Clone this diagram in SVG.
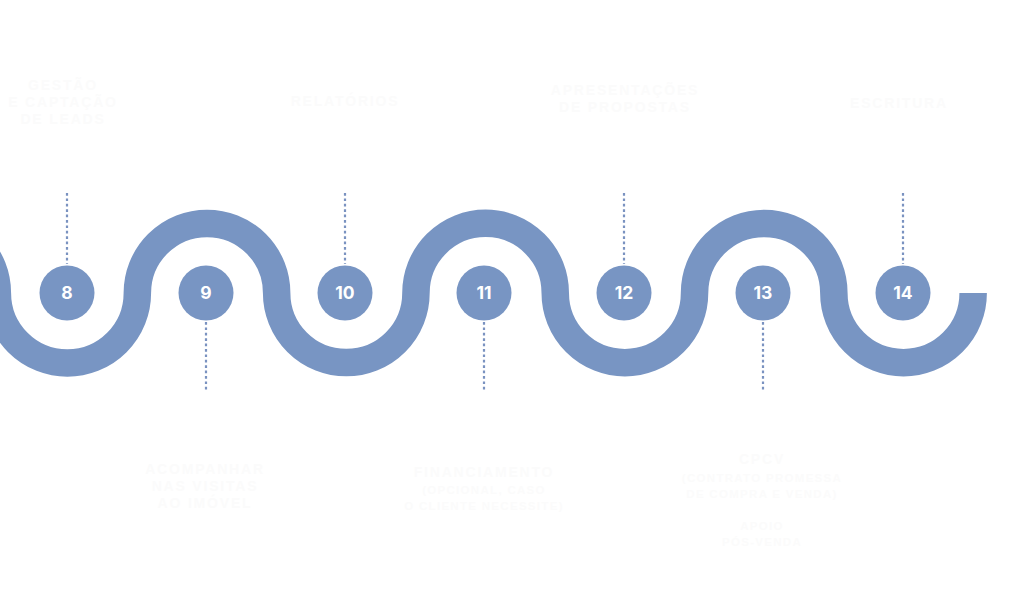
<svg xmlns="http://www.w3.org/2000/svg" width="1024" height="598" viewBox="0 0 1024 598">
  <style>
    .wave { fill: none; stroke: #7895c3; stroke-width: 27.5; stroke-linecap: butt; }
    .dot { fill: #7895c3; }
    .num { fill: #ffffff; font-family: "Inter", "Open Sans", "Liberation Sans", sans-serif; font-weight: 700; font-size: 17.5px; text-anchor: middle; }
    .lead { stroke: #7a92c0; stroke-width: 2.2; stroke-dasharray: 2.7 2.7; fill: none; }
    .ghost { fill: #fbfbfb; font-family: "Liberation Sans", "Arial", sans-serif; font-weight: 700; font-size: 14px; letter-spacing: 1.8px; text-anchor: middle; }
    .ghost-s { fill: #fbfbfb; font-family: "Liberation Sans", "Arial", sans-serif; font-weight: 700; font-size: 11.5px; letter-spacing: 1.3px; text-anchor: middle; }
  </style>
  <rect width="1024" height="598" fill="#ffffff"/>

  <g id="wave">
    <path class="wave" d="M -141.95 293 A 69.65 69.65 0 0 1 -2.65 293 A 69.65 69.65 0 0 0 137.35 293 A 69.65 69.65 0 0 1 276.65 293 A 69.65 69.65 0 0 0 415.95 293 A 69.65 69.65 0 0 1 555.25 293 A 69.65 69.65 0 0 0 694.55 293 A 69.65 69.65 0 0 1 833.85 293 A 69.65 69.65 0 0 0 973.15 293"/>
  </g>

  <g id="connectors">
    <line class="lead" x1="67" y1="193" x2="67" y2="264"/>
    <line class="lead" x1="206" y1="322" x2="206" y2="392"/>
    <line class="lead" x1="345" y1="193" x2="345" y2="264"/>
    <line class="lead" x1="484" y1="322" x2="484" y2="392"/>
    <line class="lead" x1="624" y1="193" x2="624" y2="264"/>
    <line class="lead" x1="763" y1="322" x2="763" y2="392"/>
    <line class="lead" x1="903" y1="193" x2="903" y2="264"/>
  </g>

  <g id="node-8">
    <circle class="dot" cx="67" cy="293" r="27.5"/>
    <text class="num" x="67" y="299">8</text>
    <text class="ghost" x="63" y="90">GESTÃO</text>
    <text class="ghost" x="63" y="107">E CAPTAÇÃO</text>
    <text class="ghost" x="63" y="124">DE LEADS</text>
  </g>
  <g id="node-9">
    <circle class="dot" cx="206" cy="293" r="27.5"/>
    <text class="num" x="206" y="299">9</text>
    <text class="ghost" x="205" y="474">ACOMPANHAR</text>
    <text class="ghost" x="205" y="491">NAS VISITAS</text>
    <text class="ghost" x="205" y="508">AO IMÓVEL</text>
  </g>
  <g id="node-10">
    <circle class="dot" cx="345" cy="293" r="27.5"/>
    <text class="num" x="345" y="299">10</text>
    <text class="ghost" x="345" y="106">RELATÓRIOS</text>
  </g>
  <g id="node-11">
    <circle class="dot" cx="484" cy="293" r="27.5"/>
    <text class="num" x="484" y="299">11</text>
    <text class="ghost" x="484" y="477">FINANCIAMENTO</text>
    <text class="ghost-s" x="484" y="494">(OPCIONAL, CASO</text>
    <text class="ghost-s" x="484" y="510">O CLIENTE NECESSITE)</text>
  </g>
  <g id="node-12">
    <circle class="dot" cx="624" cy="293" r="27.5"/>
    <text class="num" x="624" y="299">12</text>
    <text class="ghost" x="625" y="95">APRESENTAÇÕES</text>
    <text class="ghost" x="625" y="112">DE PROPOSTAS</text>
  </g>
  <g id="node-13">
    <circle class="dot" cx="763" cy="293" r="27.5"/>
    <text class="num" x="763" y="299">13</text>
    <text class="ghost" x="762" y="464">CPCV</text>
    <text class="ghost-s" x="762" y="482">(CONTRATO PROMESSA</text>
    <text class="ghost-s" x="762" y="498">DE COMPRA E VENDA)</text>
    <text class="ghost-s" x="762" y="530">APOIO</text>
    <text class="ghost-s" x="762" y="546">PÓS-VENDA</text>
  </g>
  <g id="node-14">
    <circle class="dot" cx="903" cy="293" r="27.5"/>
    <text class="num" x="903" y="299">14</text>
    <text class="ghost" x="899" y="108">ESCRITURA</text>
  </g>
</svg>
